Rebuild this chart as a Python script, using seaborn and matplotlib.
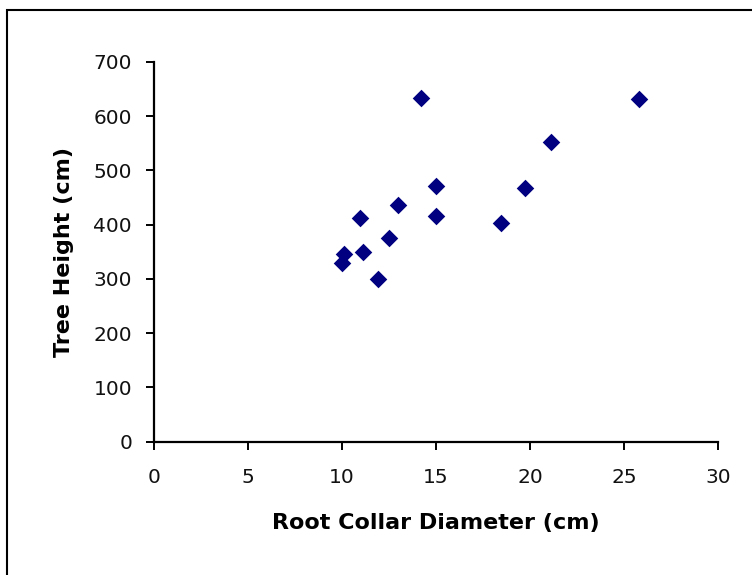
import pandas as pd
import seaborn as sns
import matplotlib.pyplot as plt
from matplotlib import font_manager
from matplotlib.patches import Rectangle

# values
collar_diameter = [10.0, 10.1, 11.1, 10.97, 11.9, 12.5, 13.0, 14.2, 15.0, 15.0, 18.45, 19.75, 21.1, 25.8]
tree_height = [330, 346, 350, 412, 300, 375, 437, 634, 471, 416, 404, 467, 552, 631]
x_ticks = [0, 5, 10, 15, 20, 25, 30]
y_ticks = [0, 100, 200, 300, 400, 500, 600, 700]

df = pd.DataFrame({'diameter': collar_diameter, 'height': tree_height})

sns.set_style('white')
plt.rcParams['font.family'] = ['DejaVu Sans']

# the tick digits in the original are tall and narrow
installed = {f.name for f in font_manager.fontManager.ttflist}
if 'Liberation Sans Narrow' in installed:
    tick_font, tick_size = 'Liberation Sans Narrow', 19
else:
    tick_font, tick_size = 'DejaVu Sans', 14.5

fig = plt.figure(figsize=(7.52, 5.75), dpi=100)
ax = fig.add_axes([0.2048, 0.2318, 0.75, 0.6604])

sns.scatterplot(data=df, x='diameter', y='height', marker='D', color='#000080',
                s=80, edgecolor='#000080', linewidth=0, ax=ax, legend=False)

ax.set_xlim(0, 30)
ax.set_ylim(0, 700)
ax.set_xticks(x_ticks)
ax.set_yticks(y_ticks)
ax.tick_params(axis='both', direction='out', length=5.8, width=1.4, color='black',
               labelsize=tick_size, labelcolor='#111111', left=True, bottom=True)
ax.tick_params(axis='x', pad=13)
ax.tick_params(axis='y', pad=10)
for lbl in ax.get_xticklabels() + ax.get_yticklabels():
    lbl.set_fontfamily(tick_font)
for side in ['top', 'right']:
    ax.spines[side].set_visible(False)
for side in ['left', 'bottom']:
    ax.spines[side].set_color('black')
    ax.spines[side].set_linewidth(1.6)

ax.set_xlabel('Root Collar Diameter (cm)', fontsize=16, fontweight='bold', labelpad=19, color='black')
ax.set_ylabel('Tree Height (cm)', fontsize=16, fontweight='bold', labelpad=14, color='black')

# outer chart-area border (only top and left visible in the crop)
fig.patches.append(Rectangle((7 / 752, -0.1), 1.2, 1 - 10 / 575 + 0.1, transform=fig.transFigure,
                             fill=False, edgecolor='black', linewidth=1.5))

fig.savefig('out.png', dpi=100)
